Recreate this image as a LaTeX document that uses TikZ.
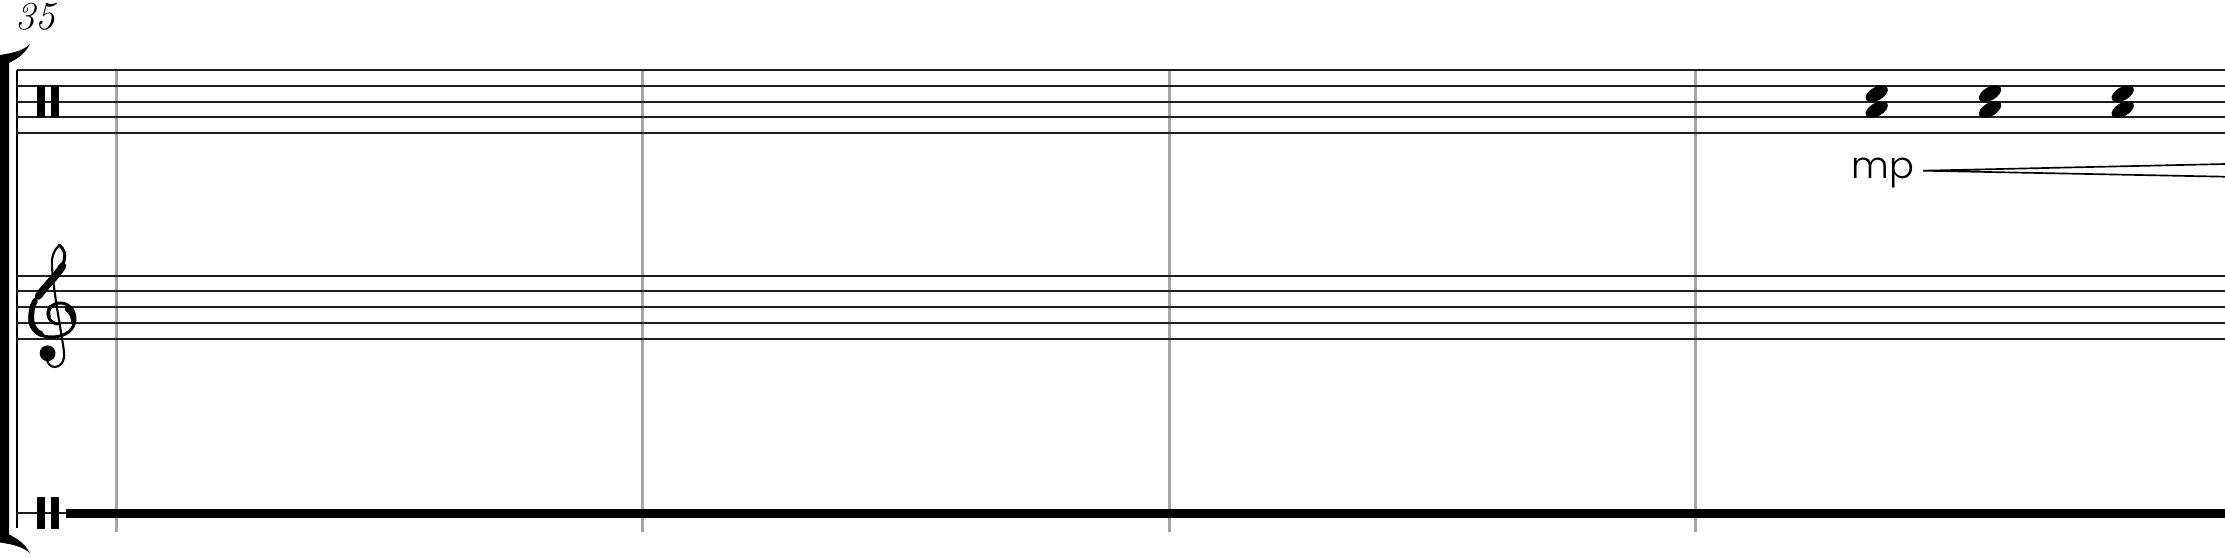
\documentclass[tikz,border=0pt]{standalone}
\usepackage{fontspec}
\newfontfamily\dynfont{Poppins Light}
\usetikzlibrary{positioning}
\tikzset{
    %Define style for staff lines
    staffline/.style={
           line width=1.2pt,
           black!88},
    %Define style for bar lines
    barline/.style={
           line width=1.9pt,
           black!35},
    %Define style for clef strokes
    clefline/.style={
           line width=1.7pt,
           line cap=round,
           line join=round},
    % Define note head style
    notehead/.style={
           fill=black},
    % Define hairpin style
    hairpin/.style={
           line width=0.95pt,
           line join=miter}
}

\begin{document}
\begin{tikzpicture}[x=0.02cm, y=-0.02cm]
    \useasboundingbox (0,0) rectangle (2225,556);
    % measure number
    \node[anchor=base west, inner sep=0pt, font=\fontsize{22.5}{26}\selectfont\itshape] (measnum) at (15,29) {35};
    % bracket
    \fill (0,55) .. controls (12,53) and (23,51) .. (30,44)
         .. controls (25,54) and (17,59) .. (9,63) -- (9,534.4)
         .. controls (17,538.4) and (25,543.4) .. (30,553.4)
         .. controls (23,546.4) and (12,544.4) .. (0,542.4) -- cycle;
    % system line
    \draw[line width=1.3pt] (17.3,70) -- (17.3,528.3);
    % bar lines
    \foreach \x in {116.7,642.7,1169.3,1695.3}
       \draw[barline] (\x,70) -- (\x,532);
    % staves
    \foreach \y in {70,85.8,101.6,117.4,133.2}
       \draw[staffline] (17.3,\y) -- (2225,\y);
    \foreach \y in {275.6,291.4,307.2,323,338.8}
       \draw[staffline] (17.3,\y) -- (2225,\y);
    \draw[staffline] (17.3,513.3) -- (66,513.3);
    \draw[line width=5pt] (65.7,513.1) -- (2225,513.1);
    % percussion clefs
    \foreach \t/\b in {86/117.3,497.3/529.3} {
       \fill (36.7,\t) rectangle (44.7,\b);
       \fill (50.8,\t) rectangle (58.8,\b);
    }
    % treble clef
    \draw[clefline] (59.3,245) .. controls (64,249) and (66,254) .. (64,261)
         .. controls (61,272) and (44,286) .. (37,297)
         .. controls (31,306) and (29,314) .. (30,322)
         .. controls (32,333) and (42,337) .. (52,337)
         .. controls (66,337) and (75,329) .. (75,319)
         .. controls (75,309) and (68,303) .. (60,303)
         .. controls (52,303) and (47,309) .. (48,315)
         .. controls (49,321) and (54,324) .. (58,324);
    \draw[clefline, line width=4.2pt] (62.5,266) .. controls (57,276) and (46,285) .. (38.5,296);
    \draw[clefline, line width=3.2pt] (35,301) .. controls (31.5,307) and (31,314) .. (31.5,321)
         .. controls (32.5,327) and (36,332) .. (41,334);
    \draw[clefline, line width=2.6pt] (67,309) .. controls (72,313) and (73.5,318) .. (73.5,323);
    \draw[clefline, line width=2pt] (51,306) .. controls (48.5,309) and (48,313) .. (49,317);
    \draw[clefline, line width=1.2pt] (59.3,245) .. controls (54,250) and (51,258) .. (52,266)
         .. controls (53,290) and (62,335) .. (64,352)
         .. controls (65,362) and (60,367) .. (55,367)
         .. controls (50,367) and (47,363) .. (47,358);
    \fill (47.6,353.3) circle [radius=4.5pt];
    % chords
    \foreach \x in {1876.7,1990,2122.7} {
       \fill[notehead, shift={(\x,93.7)}, rotate=30] (0,0) ellipse [x radius=7pt, y radius=3.8pt];
       \fill[notehead, shift={(\x,109.5)}, rotate=30] (0,0) ellipse [x radius=7pt, y radius=3.8pt];
    }
    % dynamics
    \node[anchor=base west, inner sep=0pt, font=\dynfont\fontsize{21}{24}\selectfont] (mp) at (1851,178.3) {mp};
    \coordinate (crescstart) at (1923,170.7);
    \coordinate (crescup) at (2225,164);
    \coordinate (crescdown) at (2225,176.7);
    \draw[hairpin] (crescup) -- (crescstart) -- (crescdown);
\end{tikzpicture}
\end{document}
